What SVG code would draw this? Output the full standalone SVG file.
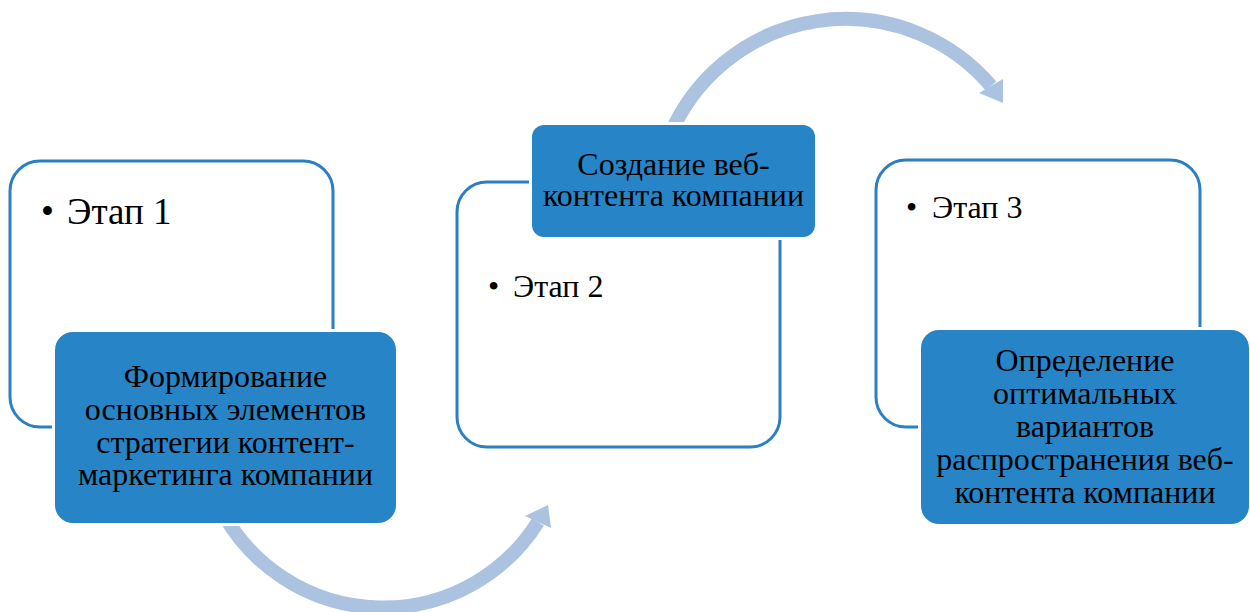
<svg xmlns="http://www.w3.org/2000/svg" width="1250" height="612" viewBox="0 0 1250 612">
<style>
.outline{fill:#fff;stroke:#2b7fc3;stroke-width:3}
.blue{fill:#2784c7;stroke:#fff;stroke-width:6;paint-order:stroke}
.arc{fill:none;stroke:#abc2e0;stroke-width:14}
.head{fill:#abc2e0;stroke:none}
.t{font-family:'Liberation Serif','Times New Roman',serif;fill:#000}
.bt{font-size:32px;text-anchor:middle}
.st{font-size:32px}
.st1{font-size:37px}
</style>
<rect width="1250" height="612" fill="#fff"/>
<g id="stage1">
<rect class="outline" x="10" y="161" width="323" height="266" rx="30"/>
<text class="t st1" x="41" y="224">•<tspan x="67">Этап 1</tspan></text>
</g>
<g id="stage2">
<rect class="outline" x="457" y="182" width="323" height="265" rx="30"/>
<text class="t st" x="488" y="297">•<tspan x="513">Этап 2</tspan></text>
</g>
<g id="stage3">
<rect class="outline" x="876" y="160" width="324" height="267" rx="30"/>
<text class="t st" x="906" y="218">•<tspan x="932">Этап 3</tspan></text>
</g>
<g id="connectors">
<path class="arc" d="M 224 515 A 183 183 0 0 0 538 522"/>
<polygon class="head" points="525,516 548,505 551,528"/>
<path class="arc" d="M 670 135 A 191 191 0 0 1 991 86"/>
<polygon class="head" points="979,93 1003,79 1003,103"/>
</g>
<g id="task1">
<rect class="blue" x="55" y="332" width="341" height="191" rx="18"/>
<text class="t bt" x="225.5" y="387">Формирование</text>
<text class="t bt" x="225.5" y="420">основных элементов</text>
<text class="t bt" x="225.5" y="453">стратегии контент-</text>
<text class="t bt" x="225.5" y="485">маркетинга компании</text>
</g>
<g id="task2">
<rect class="blue" x="532" y="125" width="283" height="112" rx="12"/>
<text class="t bt" x="673.5" y="175">Создание веб-</text>
<text class="t bt" x="673.5" y="206">контента компании</text>
</g>
<g id="task3">
<rect class="blue" x="921" y="330" width="328" height="194" rx="18"/>
<text class="t bt" x="1085" y="371">Определение</text>
<text class="t bt" x="1085" y="404">оптимальных</text>
<text class="t bt" x="1085" y="437">вариантов</text>
<text class="t bt" x="1085" y="470">распространения веб-</text>
<text class="t bt" x="1085" y="503">контента компании</text>
</g>
</svg>
